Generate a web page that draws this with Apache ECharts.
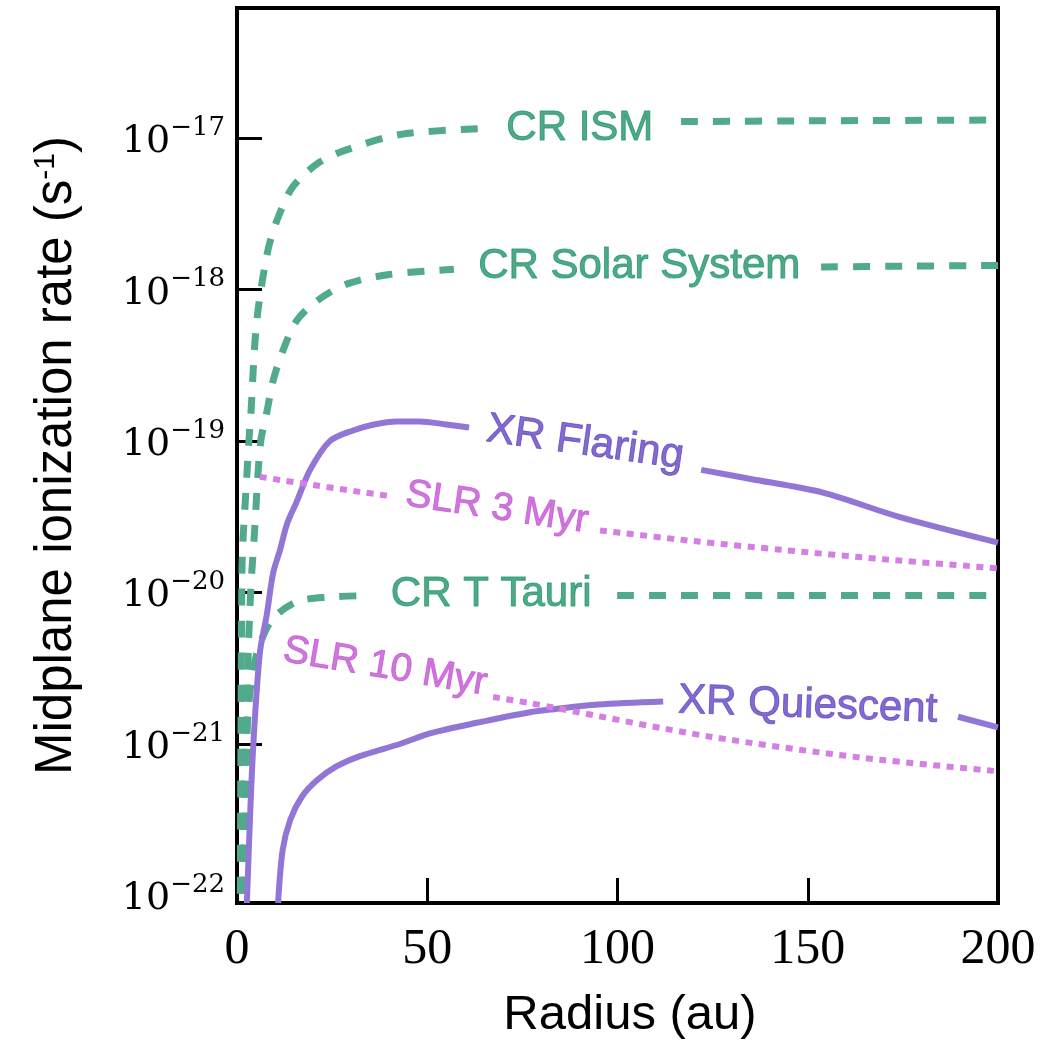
<!DOCTYPE html>
<html>
<head>
<meta charset="utf-8">
<script src="https://cdn.jsdelivr.net/npm/echarts@6/dist/echarts.min.js"></script>
<style>
  html, body { margin: 0; padding: 0; background: #ffffff; }
  #chart { width: 1056px; height: 1050px; }
</style>
</head>
<body>
<div id="chart"></div>
<script>
// Midplane ionization rate versus disk radius.
// Radii in au; rates stored as log10(rate / s^-1). A null rate leaves a gap in the
// line where the curve's own label is written.

const crIsmR   = [0.85, 1.0, 1.3, 1.6, 2.1, 2.6, 3.15, 3.7, 4.2, 4.7, 5.5, 6.8, 8.4, 11.0, 14.7, 21.3, 28.4, 43, 65.2, 90, 116.7, 150, 200];
const crIsmLog = [-22.2, -21.2, -19.86, -19.64, -19.43, -19.22, -18.99, -18.80, -18.56, -18.35, -18.14, -17.92, -17.71, -17.51, -17.32, -17.165, -17.08, -16.975, -16.935, null, -16.89, -16.885, -16.88];

const crSolarR   = [2.0, 2.4, 2.9, 3.4, 3.9, 4.5, 5.0, 5.5, 6.3, 7.9, 9.5, 12.1, 15.8, 21.8, 29.2, 40, 57, 105, 153.5, 175, 200];
const crSolarLog = [-22.2, -21.3, -20.45, -20.1, -19.86, -19.64, -19.43, -19.22, -18.99, -18.80, -18.60, -18.40, -18.20, -18.06, -17.96, -17.90, -17.865, null, -17.85, -17.845, -17.84];

const crTTauriR   = [1.4, 1.8, 2.3, 2.9, 3.9, 5.5, 9.2, 15.8, 24.4, 34.4, 67, 99.9, 150, 200];
const crTTauriLog = [-22.2, -21.6, -21.1, -20.80, -20.56, -20.38, -20.18, -20.06, -20.03, -20.02, null, -20.02, -20.02, -20.02];

const xrFlaringR   = [2.6, 3.4, 4.3, 6.0, 7.8, 9.5, 11.3, 13.1, 15.7, 19.2, 24.4, 30.5, 36, 42, 48, 55, 61, 91, 122, 135, 154, 174, 200];
const xrFlaringLog = [-22.05, -21.5, -21.0, -20.40, -20.15, -19.87, -19.72, -19.55, -19.40, -19.19, -19.0, -18.93, -18.89, -18.87, -18.87, -18.89, -18.91, null, -19.19, -19.25, -19.34, -19.50, -19.67];

const xrQuiescentR   = [10.8, 12.0, 14.0, 17.0, 21.0, 26.0, 32.3, 42.8, 50.7, 63, 77, 83.3, 95, 112, 150, 189.5, 200];
const xrQuiescentLog = [-22.05, -21.7, -21.5, -21.35, -21.24, -21.15, -21.08, -21.0, -20.93, -20.86, -20.79, -20.77, -20.74, -20.72, null, -20.82, -20.89];

const slr3R   = [6.0, 20, 32.3, 39.4, 68, 95.4, 120, 144, 170, 200];
const slr3Log = [-19.236, -19.29, -19.335, -19.36, null, -19.59, -19.66, -19.72, -19.78, -19.84];

const slr10R   = [67.3, 77, 83.3, 124, 164, 200];
const slr10Log = [-20.69, -20.73, -20.76, -20.95, -21.09, -21.18];

// Curve names, written along each curve (radius, log10 rate, text angle)
const labelText  = ['CR ISM', 'CR Solar System', 'CR T Tauri', 'XR Flaring', 'SLR 3 Myr', 'SLR 10 Myr', 'XR Quiescent'];
const labelR     = [90.1, 105.7, 66.8, 91.5, 68.3, 38.9, 150];
const labelLog   = [-16.934, -17.845, -20.01, -19.013, -19.442, -20.492, -20.746];
const labelAngle = [0, 0, 0, -8, -8.5, -9.5, -2];

// Axis ticks
const radiusTicks = [0, 50, 100, 150, 200];
const rateLabelExponents = [-22, -21, -20, -19, -18, -17];
const rateTickExponents = [-21, -20, -19, -18, -17];

const GREEN = '#52aa8c', GREEN_TEXT = '#23956a';
const PURPLE = '#9276d6', PURPLE_TEXT = '#6446c4';
const PINK = '#d47fe2', PINK_TEXT = '#c455d6';

function toPairs(rs, logs) {
  return rs.map((r, i) => [r, logs[i] === null ? null : Math.pow(10, logs[i])]);
}

function curve(name, rs, logs, color, width, dash) {
  return {
    name: name,
    type: 'line',
    data: toPairs(rs, logs),
    showSymbol: false,
    symbol: 'none',
    smooth: 0.3,
    connectNulls: false,
    clip: true,
    silent: true,
    lineStyle: { color: color, width: width, type: dash, cap: 'butt' },
    z: 3
  };
}

const labelColors = [GREEN_TEXT, GREEN_TEXT, GREEN_TEXT, PURPLE_TEXT, PINK_TEXT, PINK_TEXT, PURPLE_TEXT];
const labelSizes = [42, 42, 42, 42, 39, 39, 42];

const labelSeries = {
  type: 'scatter',
  symbolSize: 0,
  silent: true,
  z: 5,
  data: labelText.map((t, i) => ({
    value: [labelR[i], Math.pow(10, labelLog[i])],
    label: {
      show: true,
      position: 'inside',
      formatter: t,
      rotate: labelAngle[i],
      color: labelColors[i],
      textBorderColor: labelColors[i],
      textBorderWidth: 1,
      fontSize: labelSizes[i],
      fontFamily: 'Liberation Sans, Arial, sans-serif',
      align: 'center',
      verticalAlign: 'middle'
    }
  }))
};

const chart = echarts.init(document.getElementById('chart'), null, { renderer: 'canvas' });

chart.setOption({
  animation: false,
  backgroundColor: '#ffffff',
  grid: {
    left: 237, right: 58, top: 8, bottom: 147,
    show: true, borderColor: '#000000', borderWidth: 4, backgroundColor: 'transparent'
  },
  xAxis: {
    type: 'value',
    min: radiusTicks[0],
    max: radiusTicks[radiusTicks.length - 1],
    interval: 50,
    name: 'Radius (au)',
    nameLocation: 'middle',
    nameGap: 88,
    nameTextStyle: {
      fontFamily: 'Liberation Sans, Arial, sans-serif',
      fontSize: 49, color: '#000000', padding: [0, 0, 0, 25]
    },
    axisLine: { show: false },
    axisTick: { show: true, inside: true, length: 25, lineStyle: { color: '#000000', width: 3 } },
    splitLine: { show: false },
    axisLabel: {
      margin: 22,
      fontFamily: 'Liberation Serif, Times New Roman, serif',
      fontSize: 50,
      color: '#000000',
      customValues: radiusTicks
    }
  },
  yAxis: {
    type: 'log',
    logBase: 10,
    min: Math.pow(10, -22.05),
    max: Math.pow(10, -16.14),
    name: '{t|Midplane ionization rate (s}{u|-1}{t|)}',
    nameLocation: 'middle',
    nameGap: 155,
    nameRotate: 90,
    nameTextStyle: {
      rich: {
        t: { fontFamily: 'Liberation Sans, Arial, sans-serif', fontSize: 51, color: '#000000' },
        u: { fontFamily: 'Liberation Sans, Arial, sans-serif', fontSize: 30, color: '#000000', verticalAlign: 'top', padding: [0, 0, 18, 0] }
      }
    },
    axisLine: { show: false },
    axisTick: {
      show: true, inside: true, length: 25,
      lineStyle: { color: '#000000', width: 3 },
      customValues: rateTickExponents.map(e => Math.pow(10, e))
    },
    splitLine: { show: false },
    axisLabel: {
      margin: 12,
      customValues: rateLabelExponents.map(e => Math.pow(10, e)),
      formatter: function (v) {
        const e = Math.log10(v);
        const n = Math.round(e);
        if (Math.abs(e - n) > 1e-6) return '';
        return '{b|10}{s|\u2212' + (-n) + '}';
      },
      rich: {
        b: { fontFamily: 'DejaVu Serif, serif', fontSize: 38, color: '#000000', verticalAlign: 'bottom' },
        s: { fontFamily: 'DejaVu Serif, serif', fontSize: 26, color: '#000000', verticalAlign: 'top', padding: [0, 0, 20, 0] }
      }
    }
  },
  series: [
    curve('CR ISM', crIsmR, crIsmLog, GREEN, 7, [17, 15]),
    curve('CR Solar System', crSolarR, crSolarLog, GREEN, 7, [17, 15]),
    curve('CR T Tauri', crTTauriR, crTTauriLog, GREEN, 7, [17, 15]),
    curve('XR Flaring', xrFlaringR, xrFlaringLog, PURPLE, 6, 'solid'),
    curve('XR Quiescent', xrQuiescentR, xrQuiescentLog, PURPLE, 6, 'solid'),
    curve('SLR 3 Myr', slr3R, slr3Log, PINK, 6, [7, 6.5]),
    curve('SLR 10 Myr', slr10R, slr10Log, PINK, 6, [7, 6.5]),
    labelSeries
  ]
});
</script>
</body>
</html>
